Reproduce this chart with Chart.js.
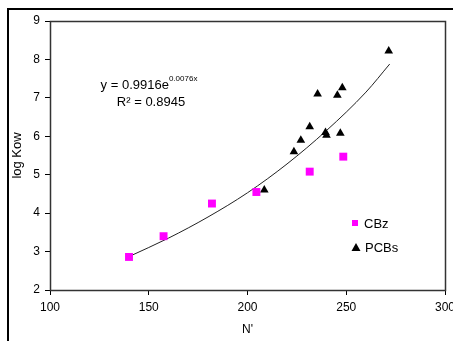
<!DOCTYPE html>
<html>
<head>
<meta charset="utf-8">
<script src="https://cdn.jsdelivr.net/npm/chart.js@4"></script>
<style>
  html, body { margin: 0; padding: 0; background: #fff; overflow: hidden; }
  #wrap { width: 453px; height: 341px; position: relative; }
  canvas { display: block; }
</style>
</head>
<body>
<div id="wrap"><canvas id="chart" width="453" height="341"></canvas></div>
<script>
// values
const cbzX = [140, 157.5, 182, 204.5, 231.5, 248.5];
const cbzY = [2.86, 3.4, 4.25, 4.55, 5.08, 5.47];

const pcbX = [208.5, 223.5, 227, 231.5, 235.5, 239.5, 240, 245.5, 248, 247, 271.5];
const pcbY = [4.6, 5.6, 5.9, 6.25, 7.1, 6.1, 6.03, 7.07, 7.26, 6.08, 8.22];

// exponential trend line, read at a few x positions
const trendX = [140, 160, 180, 200, 220, 240, 260, 272];
const trendY = [2.87, 3.35, 3.9, 4.53, 5.28, 6.15, 7.15, 7.88];

const xTicks = [100, 150, 200, 250, 300];
const yTicks = [2, 3, 4, 5, 6, 7, 8, 9];

const seriesNames = ['CBz', 'PCBs'];
const eqText = 'y = 0.9916e';
const eqExp = '0.0076x';
const r2Text = 'R² = 0.8945';

const toPoints = (xs, ys) => xs.map((x, i) => ({ x, y: ys[i] }));

const FONT = 'Liberation Sans, Arial, sans-serif';

// frame, equation and legend
const decor = {
    id: 'decor',
    beforeDraw(chart) {
        const ctx = chart.ctx;
        ctx.save();
        ctx.fillStyle = '#fff';
        ctx.fillRect(0, 0, chart.width, chart.height);
        ctx.strokeStyle = '#000';
        ctx.lineWidth = 2;
        ctx.strokeRect(8, 9, 460, 350);
        ctx.restore();
    },
    afterDraw(chart) {
        const ctx = chart.ctx;
        const a = chart.chartArea;
        ctx.save();
        ctx.strokeStyle = '#333';
        ctx.lineWidth = 1.5;
        ctx.strokeRect(Math.round(a.left) + 0.5, Math.round(a.top) + 0.5,
            Math.round(a.right - a.left), Math.round(a.bottom - a.top));

        // equation
        ctx.fillStyle = '#000';
        ctx.textBaseline = 'middle';
        ctx.font = '13px ' + FONT;
        const w1 = ctx.measureText(eqText).width;
        ctx.font = '8px ' + FONT;
        const w2 = ctx.measureText(eqExp).width;
        const cx = 149;
        const x0 = cx - (w1 + w2) / 2;
        ctx.font = '13px ' + FONT;
        ctx.textAlign = 'left';
        ctx.fillText(eqText, x0, 85);
        ctx.font = '8px ' + FONT;
        ctx.fillText(eqExp, x0 + w1, 79);
        ctx.font = '13px ' + FONT;
        ctx.textAlign = 'center';
        ctx.fillText(r2Text, cx + 2, 102);

        // legend
        ctx.textAlign = 'left';
        ctx.fillStyle = '#ff00ff';
        ctx.fillRect(352, 220, 6, 6);
        ctx.fillStyle = '#000';
        ctx.fillText(seriesNames[0], 364, 224);
        ctx.beginPath();
        ctx.moveTo(356, 243);
        ctx.lineTo(360.5, 251);
        ctx.lineTo(351.5, 251);
        ctx.closePath();
        ctx.fill();
        ctx.fillText(seriesNames[1], 365, 248);
        ctx.restore();
    }
};

new Chart(document.getElementById('chart'), {
    type: 'scatter',
    data: {
        datasets: [
            {
                label: seriesNames[0],
                data: toPoints(cbzX, cbzY),
                pointStyle: 'rect',
                pointRadius: 5.6,
                pointHoverRadius: 5.6,
                backgroundColor: '#ff00ff',
                borderColor: '#ff00ff',
                borderWidth: 0
            },
            {
                label: seriesNames[1],
                data: toPoints(pcbX, pcbY),
                pointStyle: 'triangle',
                pointRadius: 5,
                pointHoverRadius: 5,
                backgroundColor: '#000',
                borderColor: '#000',
                borderWidth: 0
            },
            {
                label: 'trend',
                type: 'line',
                data: toPoints(trendX, trendY),
                borderColor: '#222',
                borderWidth: 1,
                pointRadius: 0,
                cubicInterpolationMode: 'monotone',
                fill: false
            }
        ]
    },
    options: {
        responsive: false,
        animation: false,
        events: [],
        layout: { padding: { left: 0, top: 21, right: 8, bottom: 0 } },
        plugins: {
            legend: { display: false },
            tooltip: { enabled: false }
        },
        scales: {
            x: {
                type: 'linear',
                min: 100,
                max: 300,
                afterBuildTicks(scale) { scale.ticks = xTicks.map(v => ({ value: v })); },
                afterFit(scale) { scale.height = 51; scale.paddingLeft = 0; scale.paddingRight = 0; },
                ticks: { color: '#000', font: { family: FONT, size: 12 }, maxRotation: 0, padding: 5 },
                grid: { display: true, drawOnChartArea: false, tickLength: 5, color: '#000' },
                border: { display: true, color: '#333' },
                title: { display: true, text: "N'", color: '#000', font: { family: FONT, size: 12 }, padding: { top: 2 } }
            },
            y: {
                type: 'linear',
                min: 2,
                max: 9,
                afterBuildTicks(scale) { scale.ticks = yTicks.map(v => ({ value: v })); },
                afterFit(scale) { scale.width = 50; },
                ticks: { color: '#000', font: { family: FONT, size: 12 }, padding: 5 },
                grid: { display: true, drawOnChartArea: false, tickLength: 5, color: '#000' },
                border: { display: true, color: '#333' },
                title: { display: true, text: 'log Kow', color: '#000', font: { family: FONT, size: 13 }, padding: { top: 10, bottom: 4 } }
            }
        }
    },
    plugins: [decor]
});
</script>
</body>
</html>
